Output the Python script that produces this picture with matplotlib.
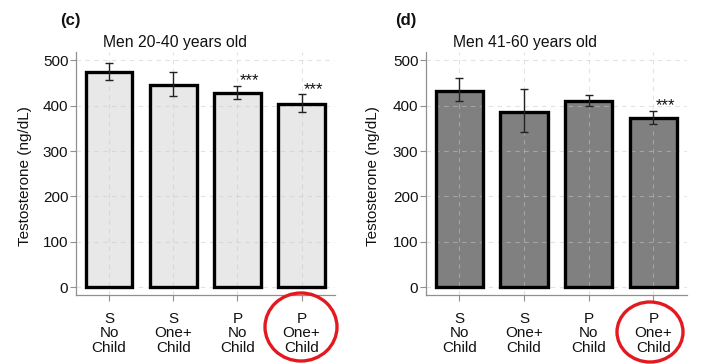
import matplotlib
matplotlib.use("Agg")
import matplotlib.pyplot as plt
from matplotlib.patches import Ellipse

plt.rcParams['font.family'] = ['Liberation Sans', 'DejaVu Sans']

categories = ["S\nNo\nChild", "S\nOne+\nChild", "P\nNo\nChild", "P\nOne+\nChild"]

# Panel (c): Men 20-40
young_mean = [473, 445, 427, 403]
young_low = [456, 421, 414, 385]
young_high = [493, 474, 443, 425]
young_sig = ["", "", "***", "***"]

# Panel (d): Men 41-60
old_mean = [432, 386, 410, 372]
old_low = [410, 342, 399, 359]
old_high = [460, 436, 424, 388]
old_sig = ["", "", "", "***"]

yticks = [0, 100, 200, 300, 400, 500]

W, H = 705, 364
fig = plt.figure(figsize=(W / 100, H / 100), dpi=100)


def panel(left_px, width_px, means, lows, highs, sig, color, title, title_x, letter, letter_x, ylabel_x):
    ax = fig.add_axes([left_px / W, (H - 295) / H, width_px / W, 243 / H])
    x = list(range(1, len(means) + 1))
    # fill below grid, outline above grid
    ax.bar(x, means, width=0.73, color=color, edgecolor='none', linewidth=0, zorder=1)
    ax.bar(x, means, width=0.73, fill=False, edgecolor='black', linewidth=2.4, zorder=3)
    yerr = [[m - lo for m, lo in zip(means, lows)], [hi - m for m, hi in zip(means, highs)]]
    ax.errorbar(x, means, yerr=yerr, fmt='none', ecolor='#222222', elinewidth=1.0,
                capsize=3.2, capthick=1.0, zorder=4)
    for xi, hi, s in zip(x, highs, sig):
        if s:
            ax.text(xi + 0.03, hi + 1, s, ha='left', va='baseline', fontsize=12, color='#111111', zorder=5)
    ax.set_xlim(0.486, 4.52)
    ax.set_ylim(-16.5, 517.6)
    ax.set_yticks(yticks)
    ax.set_xticks(x)
    ax.set_xticklabels(categories, linespacing=1.05)
    ax.grid(True, linestyle=(0, (4, 4)), color='#c8c8c8', linewidth=0.8, alpha=0.5)
    for gl in ax.get_xgridlines() + ax.get_ygridlines():
        gl.set_zorder(2)
    for sp in ['top', 'right']:
        ax.spines[sp].set_visible(False)
    for sp in ['left', 'bottom']:
        ax.spines[sp].set_color('#909090')
        ax.spines[sp].set_linewidth(0.9)
        ax.spines[sp].set_zorder(6)
    ax.tick_params(axis='y', length=4, width=0.8, color='#909090', pad=1.5, labelsize=11, labelcolor='#111111')
    ax.tick_params(axis='x', length=4, width=0.8, color='#909090', pad=8, labelsize=11, labelcolor='#111111')
    fig.text(title_x / W, (H - 47) / H, title, ha='center', va='baseline', fontsize=11.3, color='#111111')
    fig.text(letter_x / W, (H - 25) / H, letter, ha='left', va='baseline', fontsize=12,
             fontweight='bold', color='#111111')
    fig.text(ylabel_x / W, (H - 176) / H, "Testosterone (ng/dL)", rotation=90, ha='center', va='center',
             fontsize=11, color='#111111')
    return ax


panel(76, 259, young_mean, young_low, young_high, young_sig, '#e8e8e8',
      "Men 20-40 years old", 175, "(c)", 60, 25)
panel(426, 261, old_mean, old_low, old_high, old_sig, '#808080',
      "Men 41-60 years old", 525, "(d)", 395, 373)

# hand-drawn red circles around the last category labels
for cx, cy, ew, eh in [(301, 327, 72, 68), (650, 332, 66, 60)]:
    fig.patches.append(Ellipse((cx / W, (H - cy) / H), ew / W, eh / H, transform=fig.transFigure,
                               fill=False, edgecolor='#e3191f', linewidth=2.4, zorder=10))

fig.savefig("out.png", dpi=100)
